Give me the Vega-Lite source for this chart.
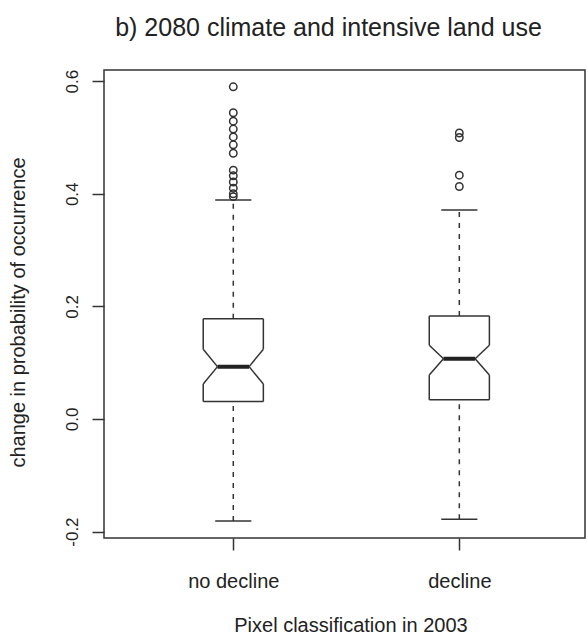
{
  "$schema": "https://vega.github.io/schema/vega-lite/v6.json",
  "width": 481,
  "height": 468,
  "autosize": {"type": "none"},
  "padding": {"left": 104, "top": 70, "right": 3, "bottom": 106},
  "background": "white",
  "title": {
    "text": "b) 2080 climate and intensive land use",
    "fontSize": 25,
    "font": "Liberation Sans",
    "fontWeight": "normal",
    "color": "#222",
    "anchor": "middle",
    "dx": -16,
    "baseline": "alphabetic",
    "offset": 8
  },
  "config": {
    "view": {"stroke": "#333", "strokeWidth": 1.5},
    "axis": {
      "labelFont": "Liberation Sans",
      "titleFont": "Liberation Sans",
      "labelColor": "#222",
      "titleColor": "#222",
      "tickColor": "#333",
      "tickWidth": 1.5,
      "domain": false,
      "grid": false,
      "titleFontWeight": "normal",
      "labelFlush": false,
      "labelOverlap": false
    },
    "axisX": {
      "labelFontSize": 20,
      "tickSize": 12,
      "labelPadding": 37,
      "labelBaseline": "alphabetic",
      "labelAlign": "center",
      "titleFontSize": 20,
      "titleX": 246.5,
      "titleY": 93,
      "titleAlign": "center",
      "titleBaseline": "alphabetic"
    },
    "axisY": {
      "labelAngle": 270,
      "labelAlign": "center",
      "labelBaseline": "alphabetic",
      "labelFontSize": 17,
      "tickSize": 12,
      "labelPadding": 15,
      "titleFontSize": 20,
      "titleAngle": 270,
      "titleX": -80,
      "titleY": 242,
      "titleAlign": "center",
      "titleBaseline": "alphabetic"
    }
  },
  "datasets": {
    "stats": [
      {"group": "no decline", "lo": -0.181, "q1": 0.031, "nlo": 0.062, "med": 0.093, "nhi": 0.124, "q3": 0.178, "hi": 0.389},
      {"group": "decline", "lo": -0.178, "q1": 0.034, "nlo": 0.078, "med": 0.107, "nhi": 0.131, "q3": 0.183, "hi": 0.371}
    ],
    "outliers": [
      {"group": "no decline", "value": 0.590},
      {"group": "no decline", "value": 0.544},
      {"group": "no decline", "value": 0.529},
      {"group": "no decline", "value": 0.515},
      {"group": "no decline", "value": 0.501},
      {"group": "no decline", "value": 0.487},
      {"group": "no decline", "value": 0.472},
      {"group": "no decline", "value": 0.442},
      {"group": "no decline", "value": 0.432},
      {"group": "no decline", "value": 0.421},
      {"group": "no decline", "value": 0.410},
      {"group": "no decline", "value": 0.400},
      {"group": "no decline", "value": 0.395},
      {"group": "decline", "value": 0.508},
      {"group": "decline", "value": 0.500},
      {"group": "decline", "value": 0.433},
      {"group": "decline", "value": 0.413}
    ]
  },
  "data": {"name": "stats"},
  "transform": [
    {"calculate": "datum.group == 'no decline' ? 1 : 2", "as": "pos"},
    {"calculate": "datum.pos - 0.133", "as": "xl"},
    {"calculate": "datum.pos + 0.133", "as": "xr"},
    {"calculate": "datum.pos - 0.07", "as": "xnl"},
    {"calculate": "datum.pos + 0.07", "as": "xnr"},
    {"calculate": "datum.pos - 0.08", "as": "xsl"},
    {"calculate": "datum.pos + 0.08", "as": "xsr"}
  ],
  "layer": [
    {
      "transform": [{"fold": ["q1", "q3"], "as": ["k", "edge"]}],
      "mark": {"type": "rule", "color": "#333", "strokeWidth": 1.5},
      "encoding": {
        "x": {"field": "xl", "type": "quantitative", "title": "Pixel classification in 2003",
          "scale": {"domain": [0.428, 2.556], "nice": false, "zero": false},
          "axis": {"values": [1, 2], "labelExpr": "datum.value < 1.5 ? 'no decline' : 'decline'"}},
        "x2": {"field": "xr"},
        "y": {"field": "edge", "type": "quantitative", "title": "change in probability of occurrence",
          "scale": {"domain": [-0.2114, 0.6199], "nice": false, "zero": false},
          "axis": {"values": [-0.2, 0, 0.2, 0.4, 0.6], "labelExpr": "replace(format(datum.value, '.1f'), '\u2212', '-')"}}
      }
    },
    {
      "transform": [
        {"fold": ["xl", "xr"], "as": ["side", "xs"]},
        {"calculate": "datum.side == 'xl' ? datum.xnl : datum.xnr", "as": "xn"}
      ],
      "layer": [
        {
          "mark": {"type": "rule", "color": "#333", "strokeWidth": 1.5},
          "encoding": {
            "x": {"field": "xs", "type": "quantitative", "scale": {"domain": [0.428, 2.556], "nice": false, "zero": false}},
            "y": {"field": "q1", "type": "quantitative", "scale": {"domain": [-0.2114, 0.6199], "nice": false, "zero": false}},
            "y2": {"field": "nlo"}
          }
        },
        {
          "mark": {"type": "rule", "color": "#333", "strokeWidth": 1.5},
          "encoding": {
            "x": {"field": "xs", "type": "quantitative", "scale": {"domain": [0.428, 2.556], "nice": false, "zero": false}},
            "y": {"field": "nhi", "type": "quantitative", "scale": {"domain": [-0.2114, 0.6199], "nice": false, "zero": false}},
            "y2": {"field": "q3"}
          }
        },
        {
          "mark": {"type": "rule", "color": "#333", "strokeWidth": 1.5},
          "encoding": {
            "x": {"field": "xs", "type": "quantitative", "scale": {"domain": [0.428, 2.556], "nice": false, "zero": false}},
            "y": {"field": "nlo", "type": "quantitative", "scale": {"domain": [-0.2114, 0.6199], "nice": false, "zero": false}},
            "x2": {"field": "xn"},
            "y2": {"field": "med"}
          }
        },
        {
          "mark": {"type": "rule", "color": "#333", "strokeWidth": 1.5},
          "encoding": {
            "x": {"field": "xn", "type": "quantitative", "scale": {"domain": [0.428, 2.556], "nice": false, "zero": false}},
            "y": {"field": "med", "type": "quantitative", "scale": {"domain": [-0.2114, 0.6199], "nice": false, "zero": false}},
            "x2": {"field": "xs"},
            "y2": {"field": "nhi"}
          }
        }
      ]
    },
    {
      "mark": {"type": "rule", "color": "#222", "strokeWidth": 4},
      "encoding": {
        "x": {"field": "xnl", "type": "quantitative", "scale": {"domain": [0.428, 2.556], "nice": false, "zero": false}},
        "x2": {"field": "xnr"},
        "y": {"field": "med", "type": "quantitative", "scale": {"domain": [-0.2114, 0.6199], "nice": false, "zero": false}}
      }
    },
    {
      "mark": {"type": "rule", "color": "#333", "strokeWidth": 1.5, "strokeDash": [5, 6]},
      "encoding": {
        "x": {"field": "pos", "type": "quantitative", "scale": {"domain": [0.428, 2.556], "nice": false, "zero": false}},
        "y": {"field": "q3", "type": "quantitative", "scale": {"domain": [-0.2114, 0.6199], "nice": false, "zero": false}},
        "y2": {"field": "hi"}
      }
    },
    {
      "mark": {"type": "rule", "color": "#333", "strokeWidth": 1.5, "strokeDash": [5, 6]},
      "encoding": {
        "x": {"field": "pos", "type": "quantitative", "scale": {"domain": [0.428, 2.556], "nice": false, "zero": false}},
        "y": {"field": "lo", "type": "quantitative", "scale": {"domain": [-0.2114, 0.6199], "nice": false, "zero": false}},
        "y2": {"field": "q1"}
      }
    },
    {
      "transform": [{"fold": ["lo", "hi"], "as": ["k2", "cap"]}],
      "mark": {"type": "rule", "color": "#333", "strokeWidth": 1.5},
      "encoding": {
        "x": {"field": "xsl", "type": "quantitative", "scale": {"domain": [0.428, 2.556], "nice": false, "zero": false}},
        "x2": {"field": "xsr"},
        "y": {"field": "cap", "type": "quantitative", "scale": {"domain": [-0.2114, 0.6199], "nice": false, "zero": false}}
      }
    },
    {
      "data": {"name": "outliers"},
      "transform": [{"calculate": "datum.group == 'no decline' ? 1 : 2", "as": "pos"}],
      "mark": {"type": "point", "shape": "circle", "filled": false, "size": 55, "color": "#333", "strokeWidth": 1.5, "opacity": 1},
      "encoding": {
        "x": {"field": "pos", "type": "quantitative", "scale": {"domain": [0.428, 2.556], "nice": false, "zero": false}},
        "y": {"field": "value", "type": "quantitative", "scale": {"domain": [-0.2114, 0.6199], "nice": false, "zero": false}}
      }
    }
  ]
}
